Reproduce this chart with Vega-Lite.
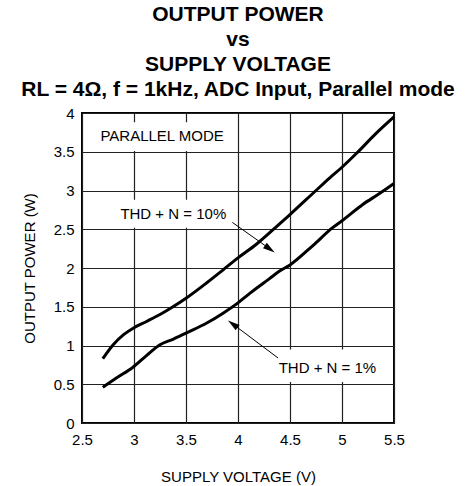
{
  "$schema": "https://vega.github.io/schema/vega-lite/v6.json",
  "width": 312,
  "height": 310,
  "autosize": "none",
  "padding": {"left": 82, "top": 113, "right": 72, "bottom": 63},
  "background": "white",
  "title": {
    "text": ["OUTPUT POWER", "vs", "SUPPLY VOLTAGE", "RL = 4Ω, f = 1kHz, ADC Input, Parallel mode"],
    "font": "Liberation Sans",
    "fontSize": 21,
    "fontWeight": "bold",
    "lineHeight": 25,
    "anchor": "middle",
    "offset": 6,
    "color": "black"
  },
  "config": {
    "view": {"stroke": "black", "strokeWidth": 2},
    "font": "Liberation Sans",
    "axis": {
      "domain": false,
      "ticks": false,
      "grid": true,
      "gridColor": "#222",
      "gridWidth": 1.2,
      "gridOpacity": 1,
      "labelFont": "Liberation Sans",
      "labelFontSize": 15,
      "labelColor": "black",
      "labelOverlap": false,
      "titleFont": "Liberation Sans",
      "titleFontSize": 15,
      "titleFontWeight": "normal",
      "titleColor": "black"
    }
  },
  "datasets": {
    "curves": [
      {"series": "10%", "v": 2.7, "p": 0.83},
      {"series": "10%", "v": 2.8, "p": 1.01},
      {"series": "10%", "v": 2.9, "p": 1.14},
      {"series": "10%", "v": 3.0, "p": 1.23},
      {"series": "10%", "v": 3.12, "p": 1.31},
      {"series": "10%", "v": 3.25, "p": 1.40},
      {"series": "10%", "v": 3.375, "p": 1.50},
      {"series": "10%", "v": 3.5, "p": 1.61},
      {"series": "10%", "v": 3.7, "p": 1.81},
      {"series": "10%", "v": 3.86, "p": 1.98},
      {"series": "10%", "v": 4.0, "p": 2.13},
      {"series": "10%", "v": 4.18, "p": 2.31},
      {"series": "10%", "v": 4.4, "p": 2.57},
      {"series": "10%", "v": 4.5, "p": 2.69},
      {"series": "10%", "v": 4.75, "p": 3.0},
      {"series": "10%", "v": 4.88, "p": 3.16},
      {"series": "10%", "v": 5.0, "p": 3.3},
      {"series": "10%", "v": 5.14, "p": 3.48},
      {"series": "10%", "v": 5.33, "p": 3.74},
      {"series": "10%", "v": 5.5, "p": 3.95},
      {"series": "1%", "v": 2.7, "p": 0.46},
      {"series": "1%", "v": 2.83, "p": 0.58},
      {"series": "1%", "v": 2.99, "p": 0.72},
      {"series": "1%", "v": 3.12, "p": 0.87},
      {"series": "1%", "v": 3.25, "p": 1.01},
      {"series": "1%", "v": 3.375, "p": 1.08},
      {"series": "1%", "v": 3.5, "p": 1.16},
      {"series": "1%", "v": 3.7, "p": 1.29},
      {"series": "1%", "v": 3.86, "p": 1.42},
      {"series": "1%", "v": 4.0, "p": 1.55},
      {"series": "1%", "v": 4.11, "p": 1.67},
      {"series": "1%", "v": 4.3, "p": 1.86},
      {"series": "1%", "v": 4.4, "p": 1.96},
      {"series": "1%", "v": 4.5, "p": 2.04},
      {"series": "1%", "v": 4.72, "p": 2.29},
      {"series": "1%", "v": 4.91, "p": 2.52},
      {"series": "1%", "v": 5.0, "p": 2.61},
      {"series": "1%", "v": 5.2, "p": 2.82},
      {"series": "1%", "v": 5.36, "p": 2.96},
      {"series": "1%", "v": 5.5, "p": 3.09}
    ],
    "boxes": [
      {"v": 2.52, "v2": 3.92, "p": 3.51, "p2": 3.88},
      {"v": 2.84, "v2": 3.95, "p": 2.52, "p2": 2.88},
      {"v": 4.36, "v2": 5.38, "p": 0.53, "p2": 0.95}
    ],
    "labels": [
      {"label": "PARALLEL MODE", "v": 2.677, "p": 3.70},
      {"label": "THD + N = 10%", "v": 2.869, "p": 2.70},
      {"label": "THD + N = 1%", "v": 4.391, "p": 0.716}
    ],
    "arrows": [
      {"name": "10%", "v": 3.946, "p": 2.588, "v2": 4.306, "p2": 2.246},
      {"name": "1%", "v": 4.385, "p": 0.839, "v2": 3.95, "p2": 1.277}
    ],
    "heads": [
      {"name": "10%", "v": 4.306, "p": 2.246},
      {"name": "1%", "v": 3.95, "p": 1.277}
    ]
  },
  "encoding": {
    "x": {
      "field": "v", "type": "quantitative",
      "scale": {"domain": [2.5, 5.5], "nice": false, "zero": false},
      "axis": {"values": [2.5, 3, 3.5, 4, 4.5, 5, 5.5], "format": "~g", "title": "SUPPLY VOLTAGE (V)", "labelPadding": 9, "titlePadding": 22, "labelFlush": false}
    },
    "y": {
      "field": "p", "type": "quantitative",
      "scale": {"domain": [0, 4], "nice": false},
      "axis": {"values": [0, 0.5, 1, 1.5, 2, 2.5, 3, 3.5, 4], "format": "~g", "title": "OUTPUT POWER (W)", "labelPadding": 8, "titlePadding": 16, "labelFlush": false}
    }
  },
  "layer": [
    {
      "data": {"name": "boxes"},
      "mark": {"type": "rect", "fill": "white", "strokeWidth": 0},
      "encoding": {
        "x2": {"field": "v2"},
        "y2": {"field": "p2"}
      }
    },
    {
      "data": {"name": "curves"},
      "mark": {"type": "line", "color": "black", "strokeWidth": 3, "interpolate": "monotone"},
      "encoding": {
        "detail": {"field": "series"}
      }
    },
    {
      "data": {"name": "arrows"},
      "mark": {"type": "rule", "color": "black", "strokeWidth": 1},
      "encoding": {
        "x2": {"field": "v2"},
        "y2": {"field": "p2"}
      }
    },
    {
      "data": {"name": "heads"},
      "transform": [{"filter": "datum.name === '10%'"}],
      "mark": {"type": "point", "shape": "M-1,-0.55L1,0L-1,0.55Z", "filled": true, "color": "black", "opacity": 1, "size": 144, "angle": 35},
      "encoding": {}
    },
    {
      "data": {"name": "heads"},
      "transform": [{"filter": "datum.name === '1%'"}],
      "mark": {"type": "point", "shape": "M-1,-0.55L1,0L-1,0.55Z", "filled": true, "color": "black", "opacity": 1, "size": 144, "angle": 217},
      "encoding": {}
    },
    {
      "data": {"name": "labels"},
      "mark": {"type": "text", "align": "left", "baseline": "middle", "fontSize": 15, "font": "Liberation Sans", "color": "black"},
      "encoding": {
        "text": {"field": "label"}
      }
    }
  ]
}
